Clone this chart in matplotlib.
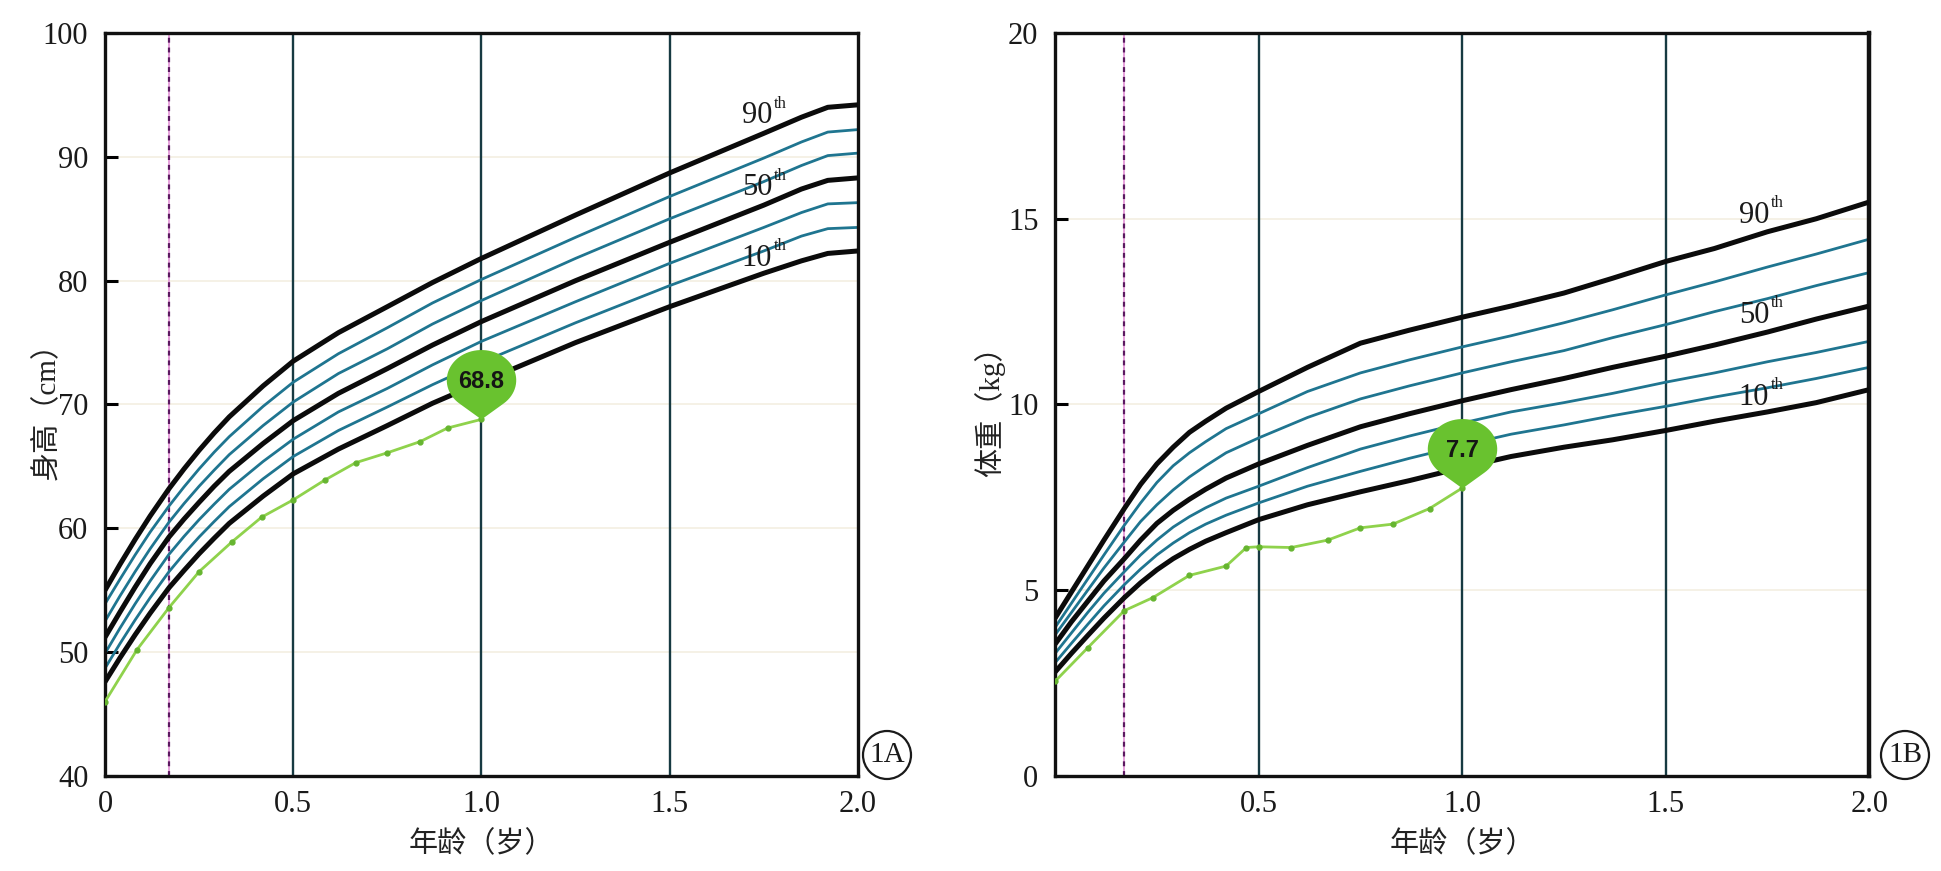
import numpy as np
import matplotlib.pyplot as plt
from matplotlib.path import Path
from matplotlib.patches import Ellipse

plt.rcParams['font.family'] = ['Liberation Serif', 'Noto Sans CJK SC']

# ---- 1A: height (cm) ----
age_h = [0, 0.04, 0.08, 0.12, 0.17, 0.21, 0.25, 0.29, 0.33, 0.42, 0.5,
         0.62, 0.75, 0.87, 1.0, 1.25, 1.5, 1.75, 1.85, 1.92, 2.0]
h_p90 = [55.0, 57.1, 59.1, 61.0, 63.2, 64.8, 66.3, 67.7, 69.0, 71.5, 73.5,
         75.8, 77.9, 79.85, 81.8, 85.3, 88.7, 91.9, 93.2, 94.0, 94.2]
h_t1 = [53.9, 55.9, 57.85, 59.7, 61.8, 63.35, 64.8, 66.15, 67.4, 69.85, 71.8,
        74.1, 76.2, 78.2, 80.1, 83.5, 86.8, 89.9, 91.2, 92.0, 92.2]
h_t2 = [52.5, 54.55, 56.5, 58.35, 60.5, 62.0, 63.4, 64.7, 65.95, 68.3, 70.2,
        72.5, 74.5, 76.5, 78.4, 81.8, 85.0, 88.0, 89.3, 90.1, 90.3]
h_p50 = [51.2, 53.25, 55.25, 57.15, 59.3, 60.75, 62.1, 63.4, 64.6, 66.85, 68.7,
         70.9, 72.9, 74.8, 76.7, 80.0, 83.1, 86.1, 87.4, 88.1, 88.3]
h_t3 = [49.9, 51.95, 53.9, 55.75, 57.9, 59.35, 60.7, 61.95, 63.15, 65.4, 67.2,
        69.4, 71.3, 73.2, 75.1, 78.3, 81.4, 84.3, 85.5, 86.2, 86.3]
h_t4 = [48.7, 50.7, 52.6, 54.4, 56.5, 57.95, 59.3, 60.55, 61.75, 64.0, 65.8,
        67.9, 69.8, 71.6, 73.4, 76.6, 79.6, 82.4, 83.6, 84.2, 84.3]
h_p10 = [47.6, 49.55, 51.4, 53.15, 55.2, 56.6, 57.95, 59.2, 60.4, 62.6, 64.4,
         66.4, 68.3, 70.1, 71.8, 75.0, 77.9, 80.6, 81.6, 82.2, 82.4]

child_age_h = [0, 0.085, 0.17, 0.25, 0.337, 0.416, 0.5, 0.584, 0.666, 0.75, 0.837, 0.91, 1.0]
child_h = [46.0, 50.2, 53.6, 56.5, 58.9, 60.9, 62.3, 63.9, 65.3, 66.1, 67.0, 68.1, 68.8]

# ---- 1B: weight (kg) ----
age_w = [0, 0.04, 0.08, 0.12, 0.17, 0.21, 0.25, 0.29, 0.33, 0.37, 0.42, 0.5,
         0.62, 0.75, 0.87, 1.0, 1.12, 1.25, 1.37, 1.5, 1.62, 1.75, 1.87, 2.0]
w_p90 = [4.25, 4.95, 5.65, 6.35, 7.2, 7.85, 8.4, 8.85, 9.25, 9.55, 9.9, 10.35,
         11.0, 11.65, 12.0, 12.35, 12.65, 13.0, 13.4, 13.85, 14.2, 14.65, 15.0, 15.45]
w_t1 = [4.0, 4.65, 5.3, 5.95, 6.75, 7.35, 7.9, 8.35, 8.7, 9.0, 9.35, 9.75,
        10.35, 10.85, 11.2, 11.55, 11.85, 12.2, 12.55, 12.95, 13.3, 13.7, 14.05, 14.45]
w_t2 = [3.8, 4.4, 5.0, 5.6, 6.3, 6.85, 7.3, 7.7, 8.05, 8.35, 8.7, 9.1,
        9.65, 10.15, 10.5, 10.85, 11.15, 11.45, 11.8, 12.15, 12.5, 12.85, 13.2, 13.55]
w_p50 = [3.55, 4.15, 4.7, 5.25, 5.85, 6.35, 6.8, 7.15, 7.45, 7.72, 8.02, 8.4,
         8.9, 9.4, 9.75, 10.1, 10.4, 10.7, 11.0, 11.3, 11.6, 11.95, 12.3, 12.65]
w_t3 = [3.3, 3.85, 4.4, 4.92, 5.5, 5.95, 6.35, 6.7, 6.98, 7.22, 7.48, 7.8,
        8.3, 8.8, 9.15, 9.5, 9.8, 10.05, 10.3, 10.6, 10.85, 11.15, 11.4, 11.7]
w_t4 = [3.05, 3.57, 4.08, 4.58, 5.15, 5.57, 5.95, 6.27, 6.55, 6.78, 7.02, 7.35,
        7.8, 8.2, 8.55, 8.9, 9.2, 9.45, 9.7, 9.95, 10.2, 10.45, 10.7, 11.0]
w_p10 = [2.8, 3.3, 3.78, 4.25, 4.8, 5.2, 5.55, 5.85, 6.1, 6.32, 6.55, 6.9,
         7.3, 7.65, 7.95, 8.3, 8.6, 8.85, 9.05, 9.3, 9.55, 9.8, 10.05, 10.4]

child_age_w = [0, 0.08, 0.17, 0.24, 0.33, 0.42, 0.47, 0.5, 0.58, 0.67, 0.75, 0.83, 0.92, 1.0]
child_w = [2.55, 3.45, 4.45, 4.8, 5.4, 5.65, 6.15, 6.17, 6.15, 6.35, 6.68, 6.78, 7.2, 7.75]

birth_mark = 0.17  # dashed line
pct_names = ['90', '50', '10']


def pin_marker(c=1.3, xs=1.15):
    # teardrop: tip at origin, round head above it
    phi = np.arccos(1.0 / c)
    t = np.linspace(phi, 2 * np.pi - phi, 60)
    arc = np.column_stack([xs * np.sin(t), c - np.cos(t)])
    verts = np.vstack([[0, 0], arc, [0, 0]])
    codes = [Path.MOVETO] + [Path.LINETO] * len(arc) + [Path.CLOSEPOLY]
    return Path(verts, codes)


def draw_panel(ax, ages, curves, child_x, child_y, pin_text, ylim, yticks,
               xticks, xticklabels, label_x, label_ys, ylabel):
    ax.set_xlim(0, 2)
    ax.set_ylim(*ylim)

    # faint horizontal guides
    for yv in yticks:
        ax.axhline(yv, color='#f3efe2', lw=1.2, zorder=0)
    for xv in [0.5, 1.0, 1.5]:
        ax.axvline(xv, color='#173a42', lw=1.7, zorder=1)

    ax.axvline(birth_mark, color='#e6a0dc', lw=1.4, zorder=1)
    ax.axvline(birth_mark, color='#5b1860', lw=1.6, dashes=(2.2, 2.2), zorder=1)

    for i, vals in enumerate(curves):
        if i % 3 == 0:
            ax.plot(ages, vals, color='#0b0b0b', lw=3.6, zorder=3,
                    solid_capstyle='butt', solid_joinstyle='round')
        else:
            ax.plot(ages, vals, color='#1f7590', lw=2.0, zorder=2,
                    solid_capstyle='butt', solid_joinstyle='round')

    ax.plot(child_x, child_y, color='#8fd24c', lw=2.0, marker='o', ms=3.5,
            mfc='#66b530', mec='#66b530', zorder=4)
    ax.plot([child_x[-1]], [child_y[-1]], marker=pin_marker(), ms=100,
            color='#69c22f', mew=0, linestyle='none', zorder=6)
    ax.annotate(pin_text, (child_x[-1], child_y[-1]), xytext=(0, 27),
                textcoords='offset points', ha='center', va='center',
                fontsize=17, fontweight='bold', family='Liberation Sans',
                color='#151515', zorder=7)

    # percentile labels
    for name, ly in zip(pct_names, label_ys):
        ax.annotate(name, (label_x, ly), ha='right', va='center',
                    fontsize=22, color='#1a1a1a', zorder=5)
        ax.annotate('th', (label_x, ly), xytext=(1, 3),
                    textcoords='offset points', ha='left', va='bottom',
                    fontsize=12, color='#1a1a1a', zorder=5)

    ax.set_yticks(yticks)
    ax.set_xticks(xticks)
    ax.set_xticklabels(xticklabels)
    ax.tick_params(axis='y', direction='in', length=9, width=2.2, pad=12,
                   labelsize=22, labelcolor='#1a1a1a')
    ax.tick_params(axis='x', length=0, pad=10, labelsize=22,
                   labelcolor='#1a1a1a')
    for sp in ax.spines.values():
        sp.set_linewidth(2.4)
        sp.set_color('#111111')

    ax.set_xlabel('年龄（岁）', fontsize=21, color='#222222', va='center')
    ax.xaxis.set_label_coords(0.5, -0.0915)
    ax.set_ylabel(ylabel, fontsize=21, color='#222222', va='center')


fig = plt.figure(figsize=(19.41, 8.71), dpi=100)
ax1 = fig.add_axes([0.0541, 0.1091, 0.3879, 0.853])
ax2 = fig.add_axes([0.5436, 0.1091, 0.4194, 0.853])

draw_panel(ax1, age_h, [h_p90, h_t1, h_t2, h_p50, h_t3, h_t4, h_p10],
           child_age_h, child_h, '68.8', (40, 100), list(range(40, 101, 10)),
           [0, 0.5, 1.0, 1.5, 2.0], ['0', '0.5', '1.0', '1.5', '2.0'],
           1.772, [93.3, 87.5, 81.8], '身高（cm）')
ax1.yaxis.set_label_coords(-0.078, 0.5)

draw_panel(ax2, age_w, [w_p90, w_t1, w_t2, w_p50, w_t3, w_t4, w_p10],
           child_age_w, child_w, '7.7', (0, 20), [0, 5, 10, 15, 20],
           [0.5, 1.0, 1.5, 2.0], ['0.5', '1.0', '1.5', '2.0'],
           1.754, [15.1, 12.4, 10.2], '体重（kg）')
ax2.yaxis.set_label_coords(-0.080, 0.5)
ax2.spines['right'].set_linewidth(3.2)

# circled panel tags
for cx, tag in [(8.87, '1A'), (19.05, '1B')]:
    fig.add_artist(Ellipse((cx, 1.16), 0.48, 0.48, transform=fig.dpi_scale_trans,
                           fill=False, lw=1.6, ec='#1a1a1a'))
    fig.text(cx / 19.41, 1.16 / 8.71, tag, ha='center', va='center',
             fontsize=21, color='#1a1a1a')

fig.savefig('out.png', dpi=100)
